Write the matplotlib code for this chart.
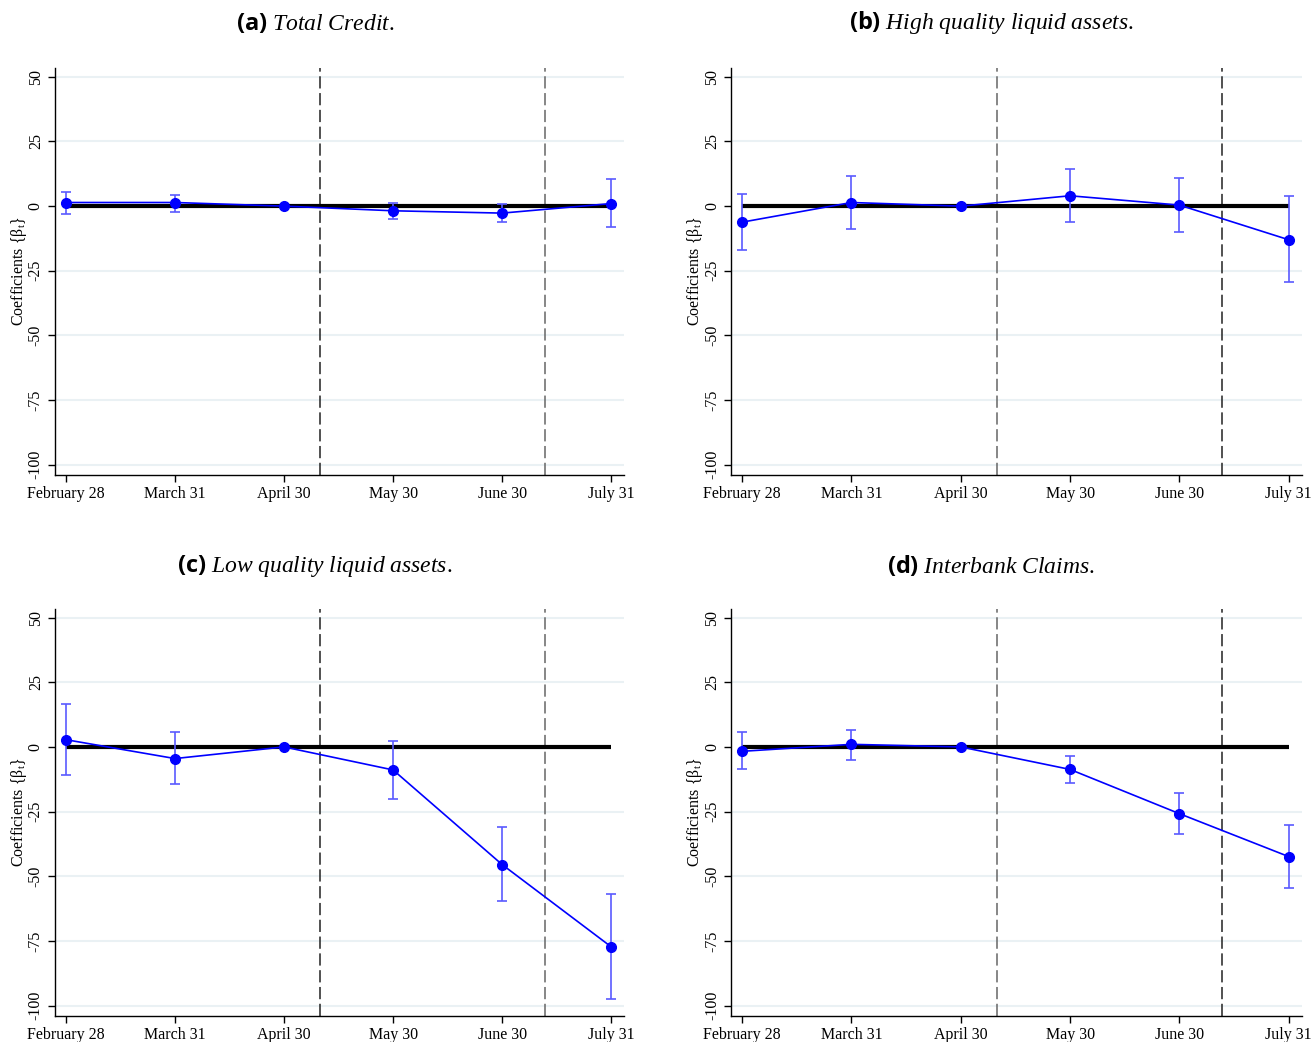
import matplotlib
matplotlib.use('Agg')
import matplotlib.pyplot as plt
import numpy as np

plt.rcParams['font.family'] = ['Liberation Serif', 'DejaVu Serif']
plt.rcParams['mathtext.fontset'] = 'custom'
plt.rcParams['mathtext.rm'] = 'Liberation Serif'
plt.rcParams['mathtext.it'] = 'Liberation Serif:italic'
plt.rcParams['mathtext.bf'] = 'Open Sans:bold'

months = ['February 28', 'March 31', 'April 30', 'May 30', 'June 30', 'July 31']
event_x = [2.33, 4.39]
y_ticks = [50, 25, 0, -25, -50, -75, -100]

titles = [r'$\mathbf{(a)}$ $\mathit{Total\ Credit.}$',
          r'$\mathbf{(b)}$ $\mathit{High\ quality\ liquid\ assets.}$',
          r'$\mathbf{(c)}$ $\mathit{Low\ quality\ liquid\ assets.}$',
          r'$\mathbf{(d)}$ $\mathit{Interbank\ Claims.}$']

# point estimates and confidence bounds
coef_a = [1.4, 1.4, 0.0, -1.8, -2.7, 1.0]
lo_a = [-3.1, -2.2, 0.0, -4.8, -6.2, -8.2]
hi_a = [5.4, 4.4, 0.0, 1.3, 0.9, 10.3]

coef_b = [-6.2, 1.4, 0.0, 4.0, 0.4, -13.0]
lo_b = [-16.8, -8.8, 0.0, -6.0, -10.1, -29.5]
hi_b = [4.8, 11.5, 0.0, 14.2, 11.0, 3.9]

coef_c = [2.8, -4.5, 0.0, -8.9, -45.5, -77.3]
lo_c = [-11.0, -14.5, 0.0, -20.2, -59.6, -97.5]
hi_c = [16.6, 5.6, 0.0, 2.1, -31.1, -57.0]

coef_d = [-1.7, 1.0, 0.0, -8.7, -25.8, -42.4]
lo_d = [-8.7, -4.9, 0.0, -13.9, -33.7, -54.4]
hi_d = [5.6, 6.6, 0.0, -3.4, -17.9, -30.2]

panels = [(coef_a, lo_a, hi_a), (coef_b, lo_b, hi_b),
          (coef_c, lo_c, hi_c), (coef_d, lo_d, hi_d)]

fig = plt.figure(figsize=(13.15, 10.42), dpi=100)

boxes = [[0.0418, 0.544, 0.433, 0.391],
         [0.556, 0.544, 0.434, 0.391],
         [0.0418, 0.025, 0.433, 0.391],
         [0.556, 0.025, 0.434, 0.391]]
title_pos = [(0.2395, 0.978), (0.7536, 0.978), (0.2395, 0.457), (0.7536, 0.457)]
dash_cols = [['#222222', '#666666'], ['#666666', '#222222'],
             ['#222222', '#666666'], ['#666666', '#222222']]

x = np.arange(len(months))

for i, (coef, lo, hi) in enumerate(panels):
    ax = fig.add_axes(boxes[i])
    coef = np.array(coef)
    err = np.array([coef - np.array(lo), np.array(hi) - coef])

    for yv in y_ticks:
        if yv != 0:
            ax.axhline(yv, color='#eaf1f4', lw=1.5, zorder=0)
    for ex, c in zip(event_x, dash_cols[i]):
        ax.axvline(ex, color=c, lw=1.1, ls=(0, (8, 3)), zorder=1)

    ax.plot([x[0], x[-1]], [0, 0], color='black', lw=3, zorder=2,
            solid_capstyle='butt')
    ax.errorbar(x, coef, yerr=err, fmt='none', ecolor='#5a5aff', elinewidth=1.2,
                capsize=3.5, capthick=1.2, zorder=3)
    ax.plot(x, coef, color='#0000ff', lw=1.2, marker='o', ms=7, zorder=4)

    ax.set_xlim(-0.1, 5.12)
    ax.set_ylim(-104, 53.5)
    ax.set_xticks(x)
    ax.set_xticklabels(months, fontsize=11.5)
    ax.set_yticks(y_ticks)
    ax.set_yticklabels([str(v) for v in y_ticks], fontsize=11.5, rotation=90,
                       va='center')
    ax.set_ylabel(r'Coefficients {β$_\mathregular{t}$}', fontsize=11.5, labelpad=-1)
    for s in ['top', 'right']:
        ax.spines[s].set_visible(False)
    for s in ['left', 'bottom']:
        ax.spines[s].set_linewidth(1.0)
    ax.tick_params(axis='both', direction='out', length=5, width=1.0, pad=3)

    fig.text(title_pos[i][0], title_pos[i][1], titles[i], fontsize=17,
             ha='center', va='center')

fig.savefig('out.png', dpi=100)
